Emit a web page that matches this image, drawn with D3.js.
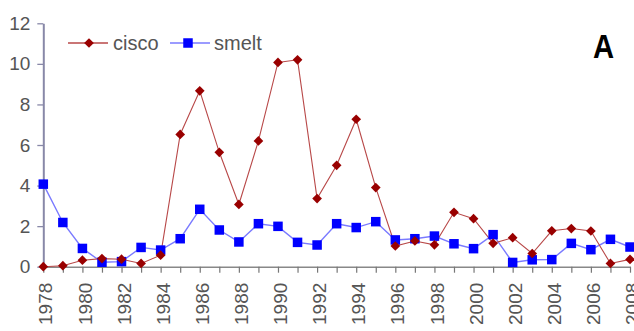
<!DOCTYPE html>
<html>
<head>
<meta charset="utf-8">
<script src="https://cdn.jsdelivr.net/npm/d3@7"></script>
<style>
  html, body { margin: 0; padding: 0; background: #fff; }
  svg { display: block; }
  svg text { font-family: "Liberation Sans", Arial, sans-serif; }
</style>
</head>
<body>
<svg id="chart" width="634" height="331"></svg>
<script>
// Annual values, 1978–2008
const years = d3.range(1978, 2009);
const cisco = [0, 0.05, 0.32, 0.4, 0.37, 0.16, 0.57, 6.52, 8.67, 5.64, 3.07, 6.2, 10.07, 10.2,
  3.36, 5.0, 7.27, 3.9, 1.02, 1.27, 1.08, 2.68, 2.37, 1.15, 1.43, 0.65, 1.77, 1.88, 1.76, 0.16, 0.36];
const smelt = [4.07, 2.18, 0.9, 0.22, 0.25, 0.95, 0.82, 1.38, 2.83, 1.81, 1.22, 2.12, 1.99, 1.2,
  1.07, 2.12, 1.93, 2.22, 1.32, 1.38, 1.51, 1.13, 0.89, 1.58, 0.21, 0.34, 0.35, 1.15, 0.84, 1.35, 0.97];
const yTicks = [0, 2, 4, 6, 8, 10, 12];

const svg = d3.select("#chart");
const x = d3.scalePoint().domain(years).range([43.3, 630]);
const y = d3.scaleLinear().domain([0, 12]).range([266.7, 23.3]);

const FONT = "'Liberation Sans', Arial, sans-serif";

// Y axis
const yAxis = svg.append("g")
  .attr("transform", "translate(43.3,0)")
  .call(d3.axisLeft(y).tickValues(yTicks).tickSize(6).tickPadding(7).tickSizeOuter(0));
yAxis.attr("font-family", FONT);
yAxis.select(".domain").attr("stroke", "#8888a8").attr("stroke-width", 2);
yAxis.selectAll(".tick line").attr("stroke", "#8888a8").attr("stroke-width", 1.3);
yAxis.selectAll(".tick text").attr("fill", "#555").attr("font-size", 19);

// X axis
const xAxis = svg.append("g")
  .attr("transform", "translate(0,266.7)")
  .call(d3.axisBottom(x).tickSize(6).tickSizeOuter(0)
    .tickFormat(d => d % 2 === 0 ? d : ""));
xAxis.attr("font-family", FONT);
xAxis.select(".domain").attr("stroke", "#888").attr("stroke-width", 1.5);
xAxis.selectAll(".tick line").attr("stroke", "#777").attr("stroke-width", 1.2);
xAxis.selectAll(".tick text")
  .attr("fill", "#555")
  .attr("font-size", 19)
  .attr("text-anchor", "end")
  .attr("dy", "0.35em")
  .attr("transform", "translate(2,16) rotate(-90)")
  .attr("x", 0).attr("y", 0);

const line = d3.line().x((d, i) => x(years[i])).y(d => y(d));

// smelt series
svg.append("path").datum(smelt)
  .attr("fill", "none").attr("stroke", "#7a7aff").attr("stroke-width", 1.4)
  .attr("d", line);
// cisco series
svg.append("path").datum(cisco)
  .attr("fill", "none").attr("stroke", "#b84848").attr("stroke-width", 1.1)
  .attr("d", line);

const sq = 9.5;
svg.append("g").selectAll("rect").data(smelt).join("rect")
  .attr("x", (d, i) => x(years[i]) - sq / 2)
  .attr("y", d => y(d) - sq / 2)
  .attr("width", sq).attr("height", sq)
  .attr("fill", "#0000ff");

const diamond = d3.symbol().type(d3.symbolDiamond2).size(60);
svg.append("g").selectAll("path").data(cisco).join("path")
  .attr("transform", (d, i) => `translate(${x(years[i])},${y(d)})`)
  .attr("d", diamond)
  .attr("fill", "#990000");

// Legend
const legend = svg.append("g").attr("transform", "translate(0,43)");
legend.append("line").attr("x1", 68).attr("x2", 108).attr("y1", 0).attr("y2", 0)
  .attr("stroke", "#b84848").attr("stroke-width", 1.6);
legend.append("path").attr("transform", "translate(89,0)").attr("d", diamond).attr("fill", "#990000");
legend.append("text").attr("x", 113).attr("y", 0).attr("dy", "0.35em")
  .attr("fill", "#555").attr("font-size", 20).text("cisco");
legend.append("line").attr("x1", 170).attr("x2", 210).attr("y1", 0).attr("y2", 0)
  .attr("stroke", "#7a7aff").attr("stroke-width", 1.6);
legend.append("rect").attr("x", 188 - sq / 2).attr("y", -sq / 2).attr("width", sq).attr("height", sq)
  .attr("fill", "#0000ff");
legend.append("text").attr("x", 214).attr("y", 0).attr("dy", "0.35em")
  .attr("fill", "#555").attr("font-size", 20).text("smelt");

// Panel letter
svg.append("text")
  .attr("transform", "translate(593,58) scale(0.86,1)")
  .attr("font-size", 34).attr("font-weight", "bold")
  .attr("fill", "#000").text("A");
</script>
</body>
</html>
